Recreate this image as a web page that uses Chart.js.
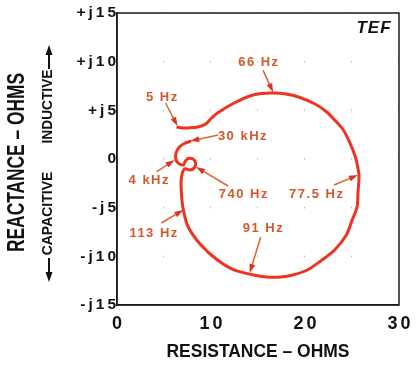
<!DOCTYPE html>
<html>
<head>
<meta charset="utf-8">
<script src="https://cdn.jsdelivr.net/npm/chart.js@4.4.1/dist/chart.umd.min.js"></script>
<style>
  html, body { margin: 0; padding: 0; background: #fff; }
  canvas { display: block; }
</style>
</head>
<body>
<canvas id="grafico" width="420" height="367"></canvas>
<script>
// Curva de impedância, de 5 Hz até 30 kHz (ohms)
const resistencia = [6.33, 6.96, 7.58, 8.62, 9.45, 10.07, 10.69, 12.46, 14.12, 15.36, 16.61, 17.96, 19.31, 21.07,
  22.32, 23.15, 24.08, 24.81, 25.33, 25.59, 25.75, 25.64, 25.54, 25.02, 24.4, 23.15, 21.8, 20.24, 18.69, 17.44,
  15.88, 14.53, 12.46, 10.69, 8.93, 7.58, 7.06, 6.85, 6.85,
  7.16, 7.79, 8.25, 8.36, 8.1, 7.58, 7.27, 7.11, 6.64, 6.28, 6.28, 6.64, 7.16, 7.89];
const reatancia = [3.29, 3.19, 3.19, 3.29, 3.6, 4.21, 4.73, 5.75, 6.47, 6.73, 6.78, 6.68, 6.37, 5.65,
  4.83, 4.01, 2.98, 1.59, 0.31, -0.72, -1.75, -3.39, -4.93, -6.27, -7.81, -9.35, -10.38, -11.4, -11.92, -12.12,
  -12.12, -11.92, -11.4, -10.38, -8.84, -6.99, -5.24, -3.49, -1.95,
  -1.03, -1.13, -0.87, -0.41, 0, 0.05, -0.21, -0.57, -0.51, -0.1, 0.62, 1.23, 1.59, 1.85];

// Frequências marcadas sobre a curva
const marcadores = ['5 Hz', '66 Hz', '77.5 Hz', '91 Hz', '113 Hz', '740 Hz', '4 kHz', '30 kHz'];
const marcadorR = [6.44, 16.61, 25.64, 14.12, 7.06, 8.41, 6.12, 7.79];
const marcadorX = [3.39, 6.85, -1.64, -11.71, -5.24, -0.82, -0.1, 1.85];

// Rótulos dos eixos
const rotulosX = ['0', '10', '20', '30'];
const rotulosY = ['-j15', '-j10', '-j5', '0', '+j5', '+j10', '+j15'];

// Posição (px) do texto e do início da seta em relação ao ponto marcado
const posRotulos = [
  { lx: -16, ly: -29, tx: -12, ty: -23 },
  { lx: -15, ly: -30, tx: -10, ty: -22 },
  { lx: -42, ly: 19, tx: -24, ty: 10 },
  { lx: 13, ly: -45, tx: 11, ty: -36 },
  { lx: -30, ly: 23, tx: -22, ty: 13 },
  { lx: 47, ly: 27, tx: 32, ty: 19 },
  { lx: -26, ly: 20, tx: -18, ty: 12 },
  { lx: 52, ly: -5, tx: 28, ty: -6 }
];

const FONTE = "'Liberation Sans', Arial, sans-serif";
Chart.defaults.font.family = FONTE;

function seta(ctx, x1, y1, x2, y2, comp, larg) {
  const a = Math.atan2(y2 - y1, x2 - x1);
  const c = Math.cos(a), s = Math.sin(a);
  ctx.beginPath();
  ctx.moveTo(x1, y1);
  ctx.lineTo(x2 - comp * c * 0.7, y2 - comp * s * 0.7);
  ctx.stroke();
  ctx.beginPath();
  ctx.moveTo(x2, y2);
  ctx.lineTo(x2 - comp * c + larg * s, y2 - comp * s - larg * c);
  ctx.lineTo(x2 - comp * c - larg * s, y2 - comp * s + larg * c);
  ctx.closePath();
  ctx.fill();
}

// texto centrado, comprimido até a largura pedida
function textoAjustado(ctx, texto, x, y, largura, angulo) {
  ctx.save();
  ctx.translate(x, y);
  ctx.rotate(angulo);
  const w = ctx.measureText(texto).width;
  ctx.scale(Math.min(1, largura / w), 1);
  ctx.fillText(texto, 0, 0);
  ctx.restore();
}

const desenhos = {
  id: 'desenhos',
  beforeLayout(chart) { chart.ctx.letterSpacing = '3px'; },
  beforeDraw(chart) { chart.ctx.letterSpacing = '3px'; },
  afterDraw(chart) {
    const ctx = chart.ctx;
    const { left, right, top, bottom } = chart.chartArea;
    const sx = chart.scales.x, sy = chart.scales.y;
    ctx.save();
    ctx.letterSpacing = '0px';

    // moldura
    ctx.strokeStyle = '#1a1a1a';
    ctx.lineWidth = 1.5;
    ctx.strokeRect(left, top, right - left, bottom - top);

    // títulos dos eixos
    ctx.fillStyle = '#111';
    ctx.textAlign = 'center';
    ctx.textBaseline = 'middle';
    ctx.font = 'bold 18px ' + FONTE;
    textoAjustado(ctx, 'RESISTANCE – OHMS', (left + right) / 2, 352, 183, 0);
    ctx.font = 'bold 23px ' + FONTE;
    textoAjustado(ctx, 'REACTANCE – OHMS', 17.5, 162.5, 179, -Math.PI / 2);

    ctx.font = 'bold 14px ' + FONTE;
    textoAjustado(ctx, 'INDUCTIVE', 48.5, 106.5, 74, -Math.PI / 2);
    textoAjustado(ctx, 'CAPACITIVE', 48.5, 213.5, 87, -Math.PI / 2);
    ctx.strokeStyle = '#111';
    ctx.lineWidth = 2;
    seta(ctx, 49, 69, 49, 45, 10, 3.5);
    seta(ctx, 49, 258, 49, 282, 10, 3.5);

    // TEF
    ctx.font = 'italic bold 17px ' + FONTE;
    ctx.letterSpacing = '1px';
    ctx.fillText('TEF', right - 25, top + 15);

    // frequências
    ctx.font = 'bold 13px ' + FONTE;
    ctx.letterSpacing = '1.5px';
    ctx.lineWidth = 1.5;
    marcadores.forEach((nome, i) => {
      const px = sx.getPixelForValue(marcadorR[i]);
      const py = sy.getPixelForValue(marcadorX[i]);
      const p = posRotulos[i];
      ctx.fillStyle = '#d4582a';
      ctx.fillText(nome, px + p.lx + 0.75, py + p.ly);
      ctx.strokeStyle = '#e0622e';
      ctx.fillStyle = '#d8361e';
      seta(ctx, px + p.tx, py + p.ty, px, py, 9, 3);
    });
    ctx.restore();
  }
};

const ctx = document.getElementById('grafico').getContext('2d');
const grafico = new Chart(ctx, {
  type: 'scatter',
  data: {
    datasets: [{
      data: resistencia.map((r, i) => ({ x: r, y: reatancia[i] })),
      showLine: true,
      borderColor: '#ee3320',
      borderWidth: 3,
      pointRadius: 0,
      tension: 0.3,
      fill: false
    }]
  },
  options: {
    responsive: false,
    animation: false,
    layout: { padding: { top: 13, right: 14, bottom: 0, left: 0 } },
    plugins: { legend: { display: false }, tooltip: { enabled: false } },
    scales: {
      x: {
        type: 'linear',
        min: 0,
        max: 30,
        afterFit: scale => { scale.height = 62; },
        grid: { display: true, color: 'rgba(150,150,150,0.7)', lineWidth: 1, drawTicks: false },
        border: { display: true, color: '#1a1a1a', width: 1.5, dash: [1.5, 47.17], dashOffset: 0.75 },
        ticks: {
          stepSize: 5,
          autoSkip: false,
          maxRotation: 0,
          padding: 8,
          labelOffset: 1.5,
          color: '#111',
          font: { size: 18, weight: 'bold' },
          callback: v => (v % 10 === 0 ? rotulosX[v / 10] : '')
        }
      },
      y: {
        type: 'linear',
        min: -15,
        max: 15,
        afterFit: scale => { scale.width = 117; },
        grid: { display: false, drawTicks: false },
        border: { display: true, color: '#1a1a1a', width: 1.5 },
        ticks: {
          stepSize: 5,
          autoSkip: false,
          padding: -2,
          color: '#111',
          font: { size: 15.5, weight: 'bold' },
          callback: v => rotulosY[(v + 15) / 5]
        }
      }
    }
  },
  plugins: [desenhos]
});
</script>
</body>
</html>
